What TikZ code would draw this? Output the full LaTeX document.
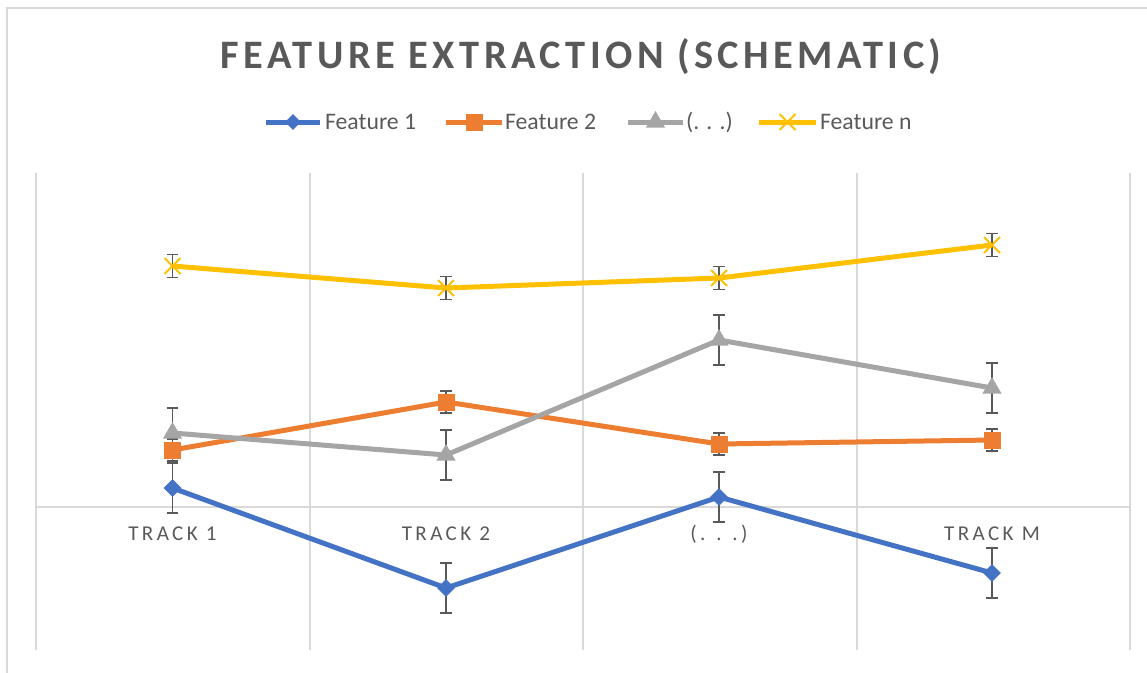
\documentclass[tikz,border=0pt]{standalone}
\usepackage{fontspec}
\setmainfont{Carlito}
\newfontfamily\titlefont[LetterSpace=11]{Carlito}
\newfontfamily\trackfont[LetterSpace=16]{Carlito}
\usepackage{tikz}
\usetikzlibrary{shapes.geometric, shapes.misc}
\definecolor{fblue}{HTML}{4472C4}
\definecolor{forange}{HTML}{ED7D31}
\definecolor{fgray}{HTML}{A5A5A5}
\definecolor{fyellow}{HTML}{FFC000}
\definecolor{gridgray}{HTML}{D9D9D9}
\definecolor{txtgray}{HTML}{595959}
\tikzstyle{grid} = [draw=gridgray, line width=0.04cm]
\tikzstyle{series} = [line width=0.1cm, line join=round]
\tikzstyle{errbar} = [draw=txtgray, line width=0.035cm]
\tikzstyle{mdiamond} = [diamond, fill=fblue, inner sep=0pt, minimum size=0.36cm]
\tikzstyle{msquare} = [rectangle, fill=forange, inner sep=0pt, minimum size=0.34cm]
\tikzstyle{mtriangle} = [isosceles triangle, shape border rotate=90, isosceles triangle apex angle=60, fill=fgray, inner sep=0pt, minimum size=0.33cm]
\tikzstyle{mcross} = [cross out, draw=fyellow, line width=0.04cm, inner sep=0pt, minimum size=0.28cm]

\begin{document}
\begin{tikzpicture}[x=0.02cm,y=-0.02cm]
	\useasboundingbox (0,0) rectangle (1147,673);
	\begin{scope}[font=\fontsize{13.5}{16}\selectfont, text=txtgray]
		
		% Frame:
		\draw [grid] (7,673) -- (7,8) -- (1147,8);
		
		% Title:
		\node (title) at (581,57) {\titlefont\bfseries\fontsize{23}{27}\selectfont FEATURE EXTRACTION (SCHEMATIC)};
		
		% Legend:
		\draw [series, fblue] (266,122) -- (320,122) node [midway, mdiamond] (k1) {};
		\node [right, inner sep=1pt] (t1) at (323,122) {Feature 1};
		\draw [series, forange] (446,122) -- (502,122) node [midway, msquare] (k2) {};
		\node [right, inner sep=1pt] (t2) at (503,122) {Feature 2};
		\draw [series, fgray] (628,122) -- (683,122) node [midway, mtriangle] (k3) {};
		\node [right, inner sep=1pt] (t3) at (684,122) {(. . .)};
		\draw [series, fyellow] (759,122) -- (816,122) node [midway, mcross] (k4) {};
		\node [right, inner sep=1pt] (t4) at (818,122) {Feature n};
		
		% Grid:
		% Vertical lines between the tracks, one horizontal line for the axis
		\foreach \i in {0,...,4}
		{
			\draw [grid] (36+273.5*\i,173) -- (36+273.5*\i,650);
		}
		\draw [grid] (36,507) -- (1130,507);
		
		% Track labels:
		\node (tr1) at (172.5,534) {\trackfont\fontsize{12}{14}\selectfont TRACK 1};
		\node (tr2) at (446,534) {\trackfont\fontsize{12}{14}\selectfont TRACK 2};
		\node (tr3) at (719,534) {\trackfont\fontsize{12}{14}\selectfont (. . .)};
		\node (tr4) at (992,534) {\trackfont\fontsize{12}{14}\selectfont TRACK M};
		
		% Data points:
		% a = Feature 1, b = Feature 2, c = (. . .), d = Feature n
		\foreach \n/\x/\ya/\yb/\yc/\yd in {1/172.5/488/450/433/266, 2/446/588/402/455/288, 3/719/497/444/340/278, 4/992/573/440/388/245}
		{
			\coordinate (a\n) at (\x,\ya);
			\coordinate (b\n) at (\x,\yb);
			\coordinate (c\n) at (\x,\yc);
			\coordinate (d\n) at (\x,\yd);
		}
		
		% Error bars:
		\foreach \p/\d in {a/0.5cm, b/0.22cm, c/0.5cm, d/0.23cm}
		{
			\foreach \n in {1,...,4}
			{
				\draw [errbar] ([yshift=\d]\p\n) -- ([yshift=-\d]\p\n);
				\draw [errbar] ([xshift=-0.12cm, yshift=\d]\p\n) -- ([xshift=0.12cm, yshift=\d]\p\n);
				\draw [errbar] ([xshift=-0.12cm, yshift=-\d]\p\n) -- ([xshift=0.12cm, yshift=-\d]\p\n);
			}
		}
		
		% Series:
		\draw [series, fblue] (a1) -- (a2) -- (a3) -- (a4);
		\draw [series, forange] (b1) -- (b2) -- (b3) -- (b4);
		\draw [series, fgray] (c1) -- (c2) -- (c3) -- (c4);
		\draw [series, fyellow] (d1) -- (d2) -- (d3) -- (d4);
		
		% Markers:
		\foreach \n in {1,...,4}
		{
			\node [mdiamond] (ma\n) at (a\n) {};
			\node [msquare] (mb\n) at (b\n) {};
			\node [mtriangle] (mc\n) at (c\n) {};
			\node [mcross] (md\n) at (d\n) {};
		}
		
	\end{scope}
\end{tikzpicture}
\end{document}
